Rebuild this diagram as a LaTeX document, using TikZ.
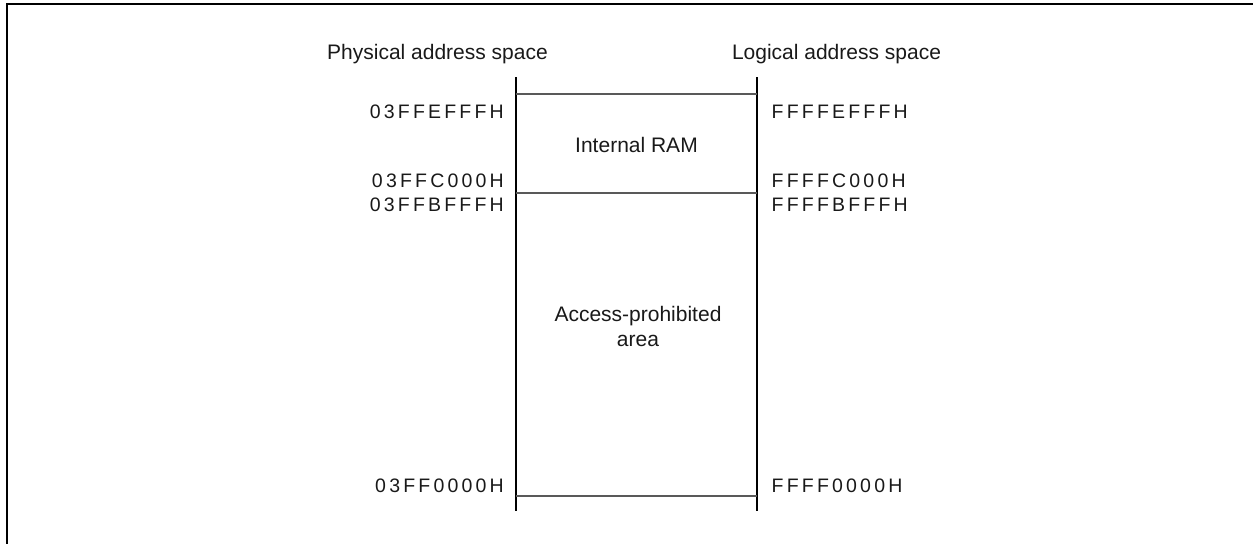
\documentclass[tikz,border=0pt]{standalone}
\usepackage{fontspec}
\setmainfont{Liberation Sans}
\def\hexloop#1{\ifx#1\relax\else#1\kern3.2pt\expandafter\hexloop\fi}
\newcommand\hexlabel[1]{\hexloop#1\relax\unkern}
\begin{document}
\begin{tikzpicture}[x=1pt,y=-1pt,
  title/.style={font=\fontsize{21}{25}\selectfont, inner sep=0, anchor=base, text=black!90},
  addr/.style={font=\fontsize{19.5}{22}\selectfont, inner sep=0, text=black!90},
  rail/.style={line width=2.6pt},
  bound/.style={line width=1.3pt, draw=black!65},
  frame/.style={line width=2.6pt}]
\useasboundingbox (0,0) rectangle (1253,544);
% frame
\coordinate (fa) at (1253,4);
\coordinate (fb) at (7,4);
\coordinate (fc) at (7,544);
\draw[frame] (fa) -- (fb) -- (fc);
% rails
\coordinate (lt) at (516,77);  \coordinate (lb) at (516,511);
\coordinate (rt) at (757,77);  \coordinate (rb) at (757,511);
\draw[rail] (lt) -- (lb);
\draw[rail] (rt) -- (rb);
% boundaries
\coordinate (b1l) at (516,94);  \coordinate (b1r) at (757,94);
\coordinate (b2l) at (516,193); \coordinate (b2r) at (757,193);
\coordinate (b3l) at (516,496); \coordinate (b3r) at (757,496);
\draw[bound] (b1l) -- (b1r);
\draw[bound] (b2l) -- (b2r);
\draw[bound] (b3l) -- (b3r);
% titles
\node[title] (phys) at (437.5,59) {Physical address space};
\node[title] (logi) at (836.5,59) {Logical address space};
% area names
\node[title] (ram) at (636.5,152) {Internal RAM};
\node[title] (ap1) at (638,321.7) {Access-prohibited};
\node[title] (ap2) at (638,346.7) {area};
% physical addresses
\node[addr, anchor=base east] (p1) at (504,118.3) {\hexlabel{03FFEFFFH}};
\node[addr, anchor=base east] (p2) at (504,187.3) {\hexlabel{03FFC000H}};
\node[addr, anchor=base east] (p3) at (504,211.3) {\hexlabel{03FFBFFFH}};
\node[addr, anchor=base east] (p4) at (504,492.8) {\hexlabel{03FF0000H}};
% logical addresses
\node[addr, anchor=base west] (l1) at (771.5,118.3) {\hexlabel{FFFFEFFFH}};
\node[addr, anchor=base west] (l2) at (771.5,187.3) {\hexlabel{FFFFC000H}};
\node[addr, anchor=base west] (l3) at (771.5,211.3) {\hexlabel{FFFFBFFFH}};
\node[addr, anchor=base west] (l4) at (771.5,492.8) {\hexlabel{FFFF0000H}};
\end{tikzpicture}
\end{document}
